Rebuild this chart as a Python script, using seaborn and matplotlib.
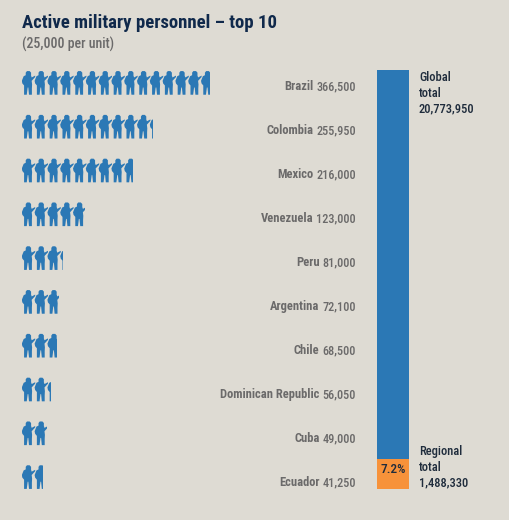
import numpy as np
import pandas as pd
import matplotlib
matplotlib.use('Agg')
import matplotlib.pyplot as plt
from matplotlib.path import Path
from matplotlib.patches import Rectangle
import seaborn as sns

# data
countries = ['Brazil', 'Colombia', 'Mexico', 'Venezuela', 'Peru', 'Argentina', 'Chile',
             'Dominican Republic', 'Cuba', 'Ecuador']
personnel = [366500, 255950, 216000, 123000, 81000, 72100, 68500, 56050, 49000, 41250]
per_unit = 25000
global_total = 20773950
regional_total = 1488330
regional_share = '7.2%'

bg = '#dedbd3'
blue = '#2b78b5'
orange = '#f7923a'
navy = '#10294b'
grey = '#6b6a6a'
dark = '#1f2c3c'

sns.set_theme(style='white', rc={'figure.facecolor': bg, 'axes.facecolor': 'none'})
plt.rcParams['font.family'] = ['Roboto Condensed', 'DejaVu Sans']

W, H = 510, 520
fig = plt.figure(figsize=(W / 100, H / 100), dpi=100)


def px_axes(left, top, right, bottom):
    return fig.add_axes([left / W, 1 - bottom / H, (right - left) / W, (bottom - top) / H])


# soldier outline, in pixels of the original unit
soldier_pts = [(2.2, 0), (4.8, 0), (5.7, 7), (6.3, 7), (7, 0), (9.8, 0), (9.8, 6),
               (10, 10), (9.6, 13.5), (13, 17.2), (13, 18.6), (9.6, 16.8), (9, 18.6),
               (9, 21.5), (7.6, 23), (5, 23), (3.8, 21.5), (3.8, 19), (1.8, 18), (0, 13.5),
               (0.5, 11), (2.2, 9), (2.2, 0)]
soldier_pts = np.array(soldier_pts) - [6.4, 11.5]
soldier = Path(soldier_pts, closed=True)

# pictogram rows
pic = px_axes(22, 61, 22 + 12.8 * 16, 499)
pic.set_xlim(0, 16)
pic.set_ylim(9.5, -0.5)
pic.axis('off')
for row, value in enumerate(personnel):
    units = value / per_unit
    n = int(np.ceil(units))
    d = pd.DataFrame({'unit': np.arange(n) + 0.5, 'row': [row] * n})
    sns.scatterplot(data=d, x='unit', y='row', marker=soldier, s=290, color=blue,
                    edgecolor='none', linewidth=0, ax=pic)
    # last soldier is cut off at the fraction of a unit
    pic.collections[-1].set_clip_path(
        Rectangle((0, row - 0.5), units, 1, transform=pic.transData))
pic.set_xlabel('')
pic.set_ylabel('')

# total bar
bar = px_axes(377, 70, 409, 489)
sns.barplot(x=['total'], y=[global_total], color=blue, saturation=1, width=1, linewidth=0, ax=bar)
sns.barplot(x=['total'], y=[regional_total], color=orange, saturation=1, width=1, linewidth=0, ax=bar)
bar.set_xlim(-0.5, 0.5)
bar.set_ylim(0, global_total)
bar.axis('off')

# text layer in pixel coordinates
txt = px_axes(0, 0, W, H)
txt.set_xlim(0, W)
txt.set_ylim(H, 0)
txt.axis('off')

txt.text(22, 28, 'Active military personnel \u2013 top 10', fontsize=13.5, fontweight='bold',
         color=navy, va='baseline')
txt.text(22, 49, '(25,000 per unit)', fontsize=10, fontweight='medium', color=grey, va='baseline')

fig.canvas.draw()
renderer = fig.canvas.get_renderer()
for row, (name, value) in enumerate(zip(countries, personnel)):
    y = 90 + 44 * row
    t = txt.text(356, y, f'{value:,}', fontsize=8.8, fontweight='medium', color=grey, ha='right', va='baseline')
    x0 = t.get_window_extent(renderer).x0
    txt.text(x0 - 3, y, name, fontsize=9, fontweight='bold', color=grey, ha='right', va='baseline')

for i, line in enumerate(['Global', 'total', '20,773,950']):
    txt.text(419, 81 + 15.7 * i, line, fontsize=9, fontweight='medium', color=dark, va='baseline')
for i, line in enumerate(['Regional', 'total', '1,488,330']):
    txt.text(419, 455 + 15.7 * i, line, fontsize=9, fontweight='medium', color=dark, va='baseline')
txt.text(393, 473, regional_share, fontsize=9.5, color=dark, fontweight='medium', ha='center', va='baseline')

fig.savefig('out.png', dpi=100, facecolor=bg)
